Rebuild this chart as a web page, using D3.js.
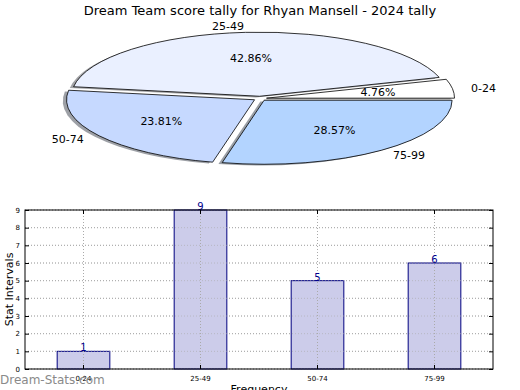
<!DOCTYPE html>
<html>
<head>
<meta charset="utf-8">
<script src="https://cdn.jsdelivr.net/npm/d3@7"></script>
<style>
  body { margin: 0; background: #fff; }
  svg { font-family: "DejaVu Sans", sans-serif; }
</style>
</head>
<body>
<svg id="chart" width="520" height="390"></svg>
<script>
var title = "Dream Team score tally for Rhyan Mansell - 2024 tally";
var categories = ["0-24", "25-49", "50-74", "75-99"];
var counts = [1, 9, 5, 6];
var sliceColors = ["#ffffff", "#eaf0ff", "#c6d9ff", "#b3d4ff"];
var yTicks = [0, 1, 2, 3, 4, 5, 6, 7, 8, 9];

(function() {
  var svg = d3.select("#chart");

  svg.append("text")
      .attr("x", 260).attr("y", 15)
      .attr("text-anchor", "middle")
      .style("font-size", "13px")
      .text(title);

  // ---- pie (squashed into an ellipse, like the original) ----
  var cx = 260, cy = 98.5, rx = 188, ry = 64, explode = 0.035;
  var total = d3.sum(counts);

  var pie = d3.pie().sort(null)
      .startAngle(Math.PI / 2)
      .endAngle(Math.PI / 2 - 2 * Math.PI);
  var arcs = pie(counts);
  var arc = d3.arc().innerRadius(0).outerRadius(1);

  function mid(d) { return (d.startAngle + d.endAngle) / 2; }
  function offset(d, k) {
    var a = mid(d);
    return [cx + k * rx * Math.sin(a), cy - k * ry * Math.cos(a)];
  }

  var pieG = svg.append("g");

  // shadows go underneath every wedge
  pieG.selectAll("path.shadow")
      .data(arcs)
    .enter().append("path")
      .attr("class", "shadow")
      .attr("transform", function(d) {
        var p = offset(d, explode);
        return "translate(" + (p[0] - 0.02 * rx) + "," + (p[1] + 0.02 * ry) + ") scale(" + rx + "," + ry + ")";
      })
      .attr("d", arc)
      .style("fill", function(d, i) {
        var c = d3.rgb(sliceColors[i]);
        return d3.rgb(c.r * 0.3, c.g * 0.3, c.b * 0.3);
      })
      .style("fill-opacity", 0.5);

  pieG.selectAll("path.wedge")
      .data(arcs)
    .enter().append("path")
      .attr("class", "wedge")
      .attr("transform", function(d) {
        var p = offset(d, explode);
        return "translate(" + p[0] + "," + p[1] + ") scale(" + rx + "," + ry + ")";
      })
      .attr("d", arc)
      .style("fill", function(d, i) { return sliceColors[i]; })
      .style("stroke", "#000")
      .style("stroke-width", 0.8)
      .attr("vector-effect", "non-scaling-stroke");

  pieG.selectAll("text.pct")
      .data(arcs)
    .enter().append("text")
      .attr("class", "pct")
      .attr("x", function(d) { return offset(d, explode + 0.6)[0]; })
      .attr("y", function(d) { return offset(d, explode + 0.6)[1]; })
      .attr("dy", "0.35em")
      .attr("text-anchor", "middle")
      .style("font-size", "11px")
      .text(function(d) { return (d.value / total * 100).toFixed(2) + "%"; });

  pieG.selectAll("text.lbl")
      .data(arcs)
    .enter().append("text")
      .attr("class", "lbl")
      .attr("x", function(d) { return offset(d, explode + 1.1)[0]; })
      .attr("y", function(d) { return offset(d, explode + 1.1)[1]; })
      .attr("dy", "0.35em")
      .attr("text-anchor", function(d) { return Math.sin(mid(d)) > 0 ? "start" : "end"; })
      .style("font-size", "11px")
      .text(function(d, i) { return categories[i]; });

  // ---- bar chart ----
  var left = 25, right = 493, plotTop = 210, bottom = 369;

  var x = d3.scaleBand().domain(categories).range([left, right]).paddingInner(0).paddingOuter(0);
  var y = d3.scaleLinear().domain([0, 9]).range([bottom, plotTop]);
  var barW = x.bandwidth() * 0.45;
  function cxBand(c) { return x(c) + x.bandwidth() / 2; }

  var barG = svg.append("g");

  barG.selectAll("line.hgrid")
      .data(yTicks)
    .enter().append("line")
      .attr("x1", left).attr("x2", right)
      .attr("y1", function(d) { return y(d); })
      .attr("y2", function(d) { return y(d); })
      .style("stroke", "#aaa")
      .style("stroke-dasharray", "1,2");

  barG.selectAll("rect")
      .data(counts)
    .enter().append("rect")
      .attr("x", function(d, i) { return cxBand(categories[i]) - barW / 2; })
      .attr("y", function(d) { return y(d); })
      .attr("width", barW)
      .attr("height", function(d) { return bottom - y(d); })
      .style("fill", "#ccccea")
      .style("stroke", "#000080")
      .style("stroke-width", 1);

  // the grid shows through the bars in the original
  barG.selectAll("line.hgrid2")
      .data(yTicks)
    .enter().append("line")
      .attr("x1", left).attr("x2", right)
      .attr("y1", function(d) { return y(d); })
      .attr("y2", function(d) { return y(d); })
      .style("stroke", "#aaa")
      .style("stroke-opacity", 0.6)
      .style("stroke-dasharray", "1,2");

  barG.selectAll("line.vgrid")
      .data(categories)
    .enter().append("line")
      .attr("x1", cxBand).attr("x2", cxBand)
      .attr("y1", plotTop).attr("y2", bottom)
      .style("stroke", "#aaa")
      .style("stroke-dasharray", "1,2");

  barG.selectAll("text.val")
      .data(counts)
    .enter().append("text")
      .attr("class", "val")
      .attr("x", function(d, i) { return cxBand(categories[i]); })
      .attr("y", function(d) { return y(d); })
      .attr("text-anchor", "middle")
      .style("font-size", "10px")
      .style("fill", "#00008b")
      .text(function(d) { return d; });

  // axes
  var yAxis = d3.axisLeft(y).tickValues(yTicks).tickSizeInner(-4).tickSizeOuter(0).tickPadding(5);
  var yAxisR = d3.axisRight(y).tickValues(yTicks).tickSizeInner(-4).tickSizeOuter(0).tickFormat("");
  var xAxis = d3.axisBottom(x).tickSizeInner(-4).tickSizeOuter(0).tickPadding(7);
  var xAxisT = d3.axisTop(x).tickSizeInner(-4).tickSizeOuter(0).tickFormat("");

  function style(g) {
    g.select(".domain").remove();
    g.selectAll("text").style("font-size", "7px").style("font-family", "DejaVu Sans, sans-serif").attr("fill", "#000");
    g.selectAll("line").style("stroke", "#000");
  }

  svg.append("g").attr("transform", "translate(" + left + ",0)").call(yAxis).call(style);
  svg.append("g").attr("transform", "translate(" + right + ",0)").call(yAxisR).call(style);
  svg.append("g").attr("transform", "translate(0," + bottom + ")").call(xAxis).call(style);
  svg.append("g").attr("transform", "translate(0," + plotTop + ")").call(xAxisT).call(style);

  svg.append("rect")
      .attr("x", left).attr("y", plotTop)
      .attr("width", right - left).attr("height", bottom - plotTop)
      .style("fill", "none").style("stroke", "#000").style("stroke-width", 1);

  svg.append("text")
      .attr("transform", "translate(13," + ((plotTop + bottom) / 2) + ") rotate(-90)")
      .attr("text-anchor", "middle")
      .style("font-size", "11px")
      .text("Stat Intervals");

  svg.append("text")
      .attr("x", (left + right) / 2).attr("y", 393)
      .attr("text-anchor", "middle")
      .style("font-size", "11px")
      .text("Frequency");

  svg.append("text")
      .attr("x", 0).attr("y", 384)
      .style("font-size", "12px")
      .style("fill", "#8a8a8a")
      .text("Dream-Stats.com");
})();
</script>
</body>
</html>
